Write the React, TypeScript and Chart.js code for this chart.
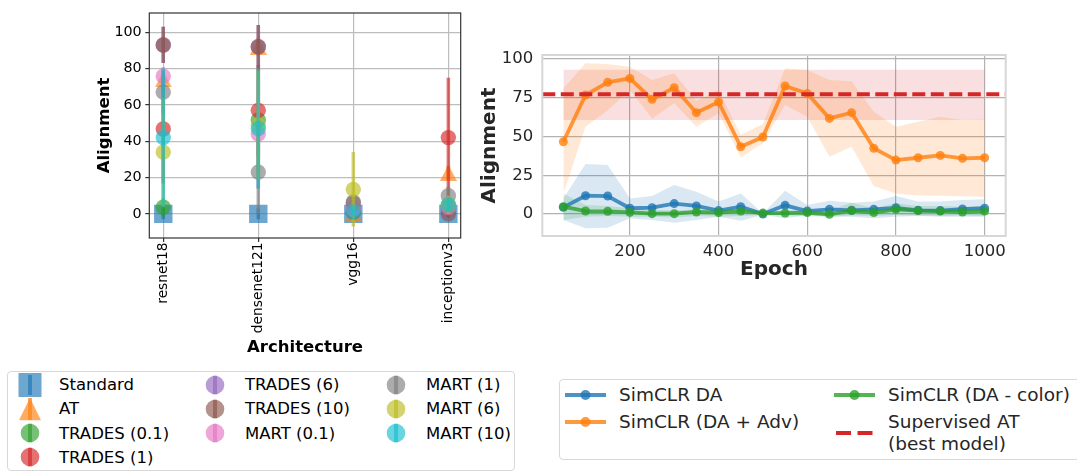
import React, { useEffect, useRef } from 'react';
import { Chart, registerables } from 'chart.js';

Chart.register(...registerables);

const FONT = "'DejaVu Sans', sans-serif";
Chart.defaults.font.family = FONT;

// ---------------- Left panel data ----------------
const architectures = ['resnet18', 'densenet121', 'vgg16', 'inceptionv3'];
const methodNames = ['Standard', 'AT', 'TRADES (0.1)', 'TRADES (1)', 'TRADES (6)', 'TRADES (10)', 'MART (0.1)', 'MART (1)', 'MART (6)', 'MART (10)'];
const methodColors = ['#1f77b4', '#ff7f0e', '#2ca02c', '#d62728', '#9467bd', '#8c564b', '#e377c2', '#7f7f7f', '#bcbd22', '#17becf'];
const methodShapes = ['rect', 'triangle', 'circle', 'circle', 'circle', 'circle', 'circle', 'circle', 'circle', 'circle'];

const standardVals = [0, 0, 0, 0];
const standardErr = [3, 3, 2, 2];
const atVals = [74, 92, 0, 22.5];
const atErr = [6, 5, 1, 4];
const trades01Vals = [3.6, 51.7, 1, 4];
const trades01Err = [5, 28, 1, 3];
const trades1Vals = [46.7, 57, 1, 42];
const trades1Err = [30, 25, 1, 33];
const trades6Vals = [93, 92, 3, 3];
const trades6Err = [10, 12, 2, 3];
const trades10Vals = [93, 92, 6, 0];
const trades10Err = [10, 12, 3, 2];
const mart01Vals = [75.8, 44, 2.5, 3.5];
const mart01Err = [5, 30, 2, 3];
const mart1Vals = [67, 23, 6.5, 10];
const mart1Err = [12, 23, 3, 5];
const mart6Vals = [34, 48.8, 13.5, 5];
const mart6Err = [30, 30, 20.5, 5];
const mart10Vals = [42, 47, 1, 5];
const mart10Err = [38, 33, 2, 4];

const methodValues = [standardVals, atVals, trades01Vals, trades1Vals, trades6Vals, trades10Vals, mart01Vals, mart1Vals, mart6Vals, mart10Vals];
const methodErrors = [standardErr, atErr, trades01Err, trades1Err, trades6Err, trades10Err, mart01Err, mart1Err, mart6Err, mart10Err];
const leftYTicks = [0, 20, 40, 60, 80, 100];

// ---------------- Right panel data ----------------
const epochs = [50, 100, 150, 200, 250, 300, 350, 400, 450, 500, 550, 600, 650, 700, 750, 800, 850, 900, 950, 1000];
const daMean = [4.3, 11.8, 11.6, 3.7, 4.1, 6.7, 5.2, 2.2, 4.7, 0, 5.6, 1.9, 3, 2.4, 3, 4, 2.4, 2.2, 3.2, 3.7];
const daUpper = [10, 32.3, 31.6, 10, 11.6, 18.7, 14.4, 8, 13.3, 0.4, 15, 5.8, 8.6, 7.3, 8, 11.6, 8, 8, 9, 9.5];
const daLower = [-3.9, -9.2, -8.8, -2.8, -3.9, -5.6, -3.9, -1.7, -4.3, -0.6, -2.8, -1, -1.7, -1.7, -2.8, -1.7, -1.3, -1.7, -1.7, -1.7];
const advMean = [46.6, 76.8, 85, 87.5, 74, 81.5, 65.4, 72.3, 43.4, 49.7, 82.6, 77.8, 61.7, 65.4, 42.4, 34.8, 36.3, 37.8, 35.9, 36.3];
const advUpper = [81, 97.2, 96.8, 95, 86.5, 90.8, 73, 80, 51, 58, 94, 92.9, 86.5, 85.7, 66, 56.3, 59.6, 62.8, 60.6, 61];
const advLower = [13.3, 56.3, 67, 80, 61.7, 71.4, 56.3, 65, 36.6, 45.6, 70.3, 62.8, 37, 43.4, 18, 13.3, 12, 11.7, 11.5, 11.2];
const colorMean = [4.7, 1.9, 1.7, 1.1, 0.2, 0.2, 1.3, 0.9, 1.9, 0.6, 0.6, 0.9, -0.2, 2.2, 0.9, 3, 2.2, 1.9, 1.3, 1.9];
const colorUpper = [13.3, 5.8, 5.2, 3.7, 2.6, 2.2, 3, 2.6, 3.7, 0.4, 2.6, 2.2, 2.6, 7.3, 3.7, 6.9, 5.2, 5.2, 4.7, 5.2];
const colorLower = [-3.9, -1.7, -1.3, -1.7, -1.7, -2.2, -1.3, -1.7, -1.3, -0.6, -0.9, -1.3, -1.7, -0.9, -1.3, -0.6, -0.9, -1.3, -0.9, -1.3];
const supervisedAT = 77.2;
const supervisedUpper = 93.1;
const supervisedLower = 60.6;
const rightXTicks = [200, 400, 600, 800, 1000];
const rightYTicks = [0, 25, 50, 75, 100];
const rightXMin = 2.5;
const rightXMax = 1047.5;

const BLUE = '#1f77b4';
const ORANGE = '#ff7f0e';
const GREEN = '#2ca02c';
const RED = '#d62728';

function rgba(hex: string, a: number) {
  const n = parseInt(hex.slice(1), 16);
  return `rgba(${(n >> 16) & 255},${(n >> 8) & 255},${n & 255},${a})`;
}

const MARKER_ALPHA = 0.65;

function makeTriangle(w: number, h: number, color: string) {
  const c = document.createElement('canvas');
  c.width = w;
  c.height = h;
  const g = c.getContext('2d')!;
  g.fillStyle = color;
  g.beginPath();
  g.moveTo(w / 2, 0);
  g.lineTo(w, h);
  g.lineTo(0, h);
  g.closePath();
  g.fill();
  return c;
}

const errorBarPlugin = {
  id: 'errorBars',
  beforeDatasetDraw(chart: any, args: any) {
    const ds = chart.data.datasets[args.index];
    if (!ds.errors) return;
    const { ctx, chartArea } = chart;
    const x = chart.scales.x;
    const y = chart.scales.y;
    ctx.save();
    ctx.beginPath();
    ctx.rect(chartArea.left, chartArea.top, chartArea.right - chartArea.left, chartArea.bottom - chartArea.top);
    ctx.clip();
    ctx.strokeStyle = ds.errorColor;
    ctx.lineWidth = 3.5;
    ds.data.forEach((p: any, i: number) => {
      const e = ds.errors[i];
      const px = x.getPixelForValue(p.x);
      ctx.beginPath();
      ctx.moveTo(px, y.getPixelForValue(p.y - e));
      ctx.lineTo(px, y.getPixelForValue(p.y + e));
      ctx.stroke();
    });
    ctx.restore();
  },
};

const framePlugin = {
  id: 'frame',
  afterDatasetsDraw(chart: any, _args: any, opts: any) {
    const { ctx, chartArea: a } = chart;
    ctx.save();
    ctx.strokeStyle = opts.color;
    ctx.lineWidth = opts.width;
    ctx.strokeRect(a.left, a.top, a.right - a.left, a.bottom - a.top);
    ctx.restore();
  },
};

const noPadY = (w: number) => (s: any) => {
  s.width = w;
  s.paddingTop = 0;
  s.paddingBottom = 0;
};
const noPadX = (h: number) => (s: any) => {
  s.height = h;
  s.paddingLeft = 0;
  s.paddingRight = 0;
};

function LeftLegend() {
  const colX = [30, 215, 396];
  const textX = [59, 245, 426];
  const rowY = [385, 409.1, 433.2, 457.3];
  const columns = [[0, 1, 2, 3], [4, 5, 6], [7, 8, 9]];
  const items: any[] = [];
  columns.forEach((col, ci) =>
    col.forEach((mi, ri) => {
      const color = rgba(methodColors[mi], MARKER_ALPHA);
      const cy = rowY[ri];
      let shape: any;
      let bar = 10;
      if (methodShapes[mi] === 'rect') shape = <rect x={14 - 11.5} y={14 - 12} width={23} height={24} fill={color} />;
      else if (methodShapes[mi] === 'triangle') {
        shape = <polygon points={`14,${14 - 11.3} ${14 + 11},${14 + 11.3} ${14 - 11},${14 + 11.3}`} fill={color} />;
        bar = 11;
      } else {
        shape = <circle cx={14} cy={14} r={9.3} fill={color} />;
        bar = 9.3;
      }
      items.push(
        <svg key={'m' + mi} width={28} height={28} style={{ position: 'absolute', left: colX[ci] - 14, top: cy - 14 }}>
          <line x1={14} x2={14} y1={14 - bar} y2={14 + bar} stroke={color} strokeWidth={4} />
          {shape}
        </svg>
      );
      items.push(
        <div key={'t' + mi} style={{ position: 'absolute', left: textX[ci], top: cy - 9.7, fontSize: 16.5, lineHeight: '20px', color: '#000', whiteSpace: 'nowrap' }}>
          {methodNames[mi]}
        </div>
      );
    })
  );
  return (
    <>
      <div style={{ position: 'absolute', left: 7, top: 371, width: 508, height: 100, border: '1px solid #d8d8d8', borderRadius: 4, boxSizing: 'border-box' }} />
      {items}
    </>
  );
}

const rightLegendNames = ['SimCLR DA', 'SimCLR (DA + Adv)', 'SimCLR (DA - color)', 'Supervised AT\n(best model)'];

function RightLegend() {
  const lineX = [565, 834];
  const textX = [619, 888];
  const rowY = [394.5, 421.7];
  const cols = [[0, 1], [2, 3]];
  const colors = [BLUE, ORANGE, GREEN, RED];
  const items: any[] = [];
  cols.forEach((col, ci) =>
    col.forEach((li, ri) => {
      const cy = rowY[ri];
      const isDash = li === 3;
      const hy = isDash ? 433 : cy;
      items.push(
        <svg key={'l' + li} width={44} height={14} style={{ position: 'absolute', left: lineX[ci], top: hy - 7 }}>
          {isDash ? (
            <line x1={2} x2={40} y1={7} y2={7} stroke={RED} strokeWidth={4} strokeDasharray="15 6.5" />
          ) : (
            <>
              <line x1={0} x2={41} y1={7} y2={7} stroke={rgba(colors[li], 0.8)} strokeWidth={4} />
              <circle cx={20.5} cy={7} r={5} fill={rgba(colors[li], 0.8)} />
            </>
          )}
        </svg>
      );
      items.push(
        <div key={'t' + li} style={{ position: 'absolute', left: textX[ci], top: cy - 10.4, fontSize: 18.5, lineHeight: '21.5px', color: '#262626', whiteSpace: 'pre' }}>
          {rightLegendNames[li]}
        </div>
      );
    })
  );
  return (
    <>
      <div style={{ position: 'absolute', left: 559, top: 379, width: 560, height: 81, border: '1px solid #d8d8d8', borderRadius: 4, boxSizing: 'border-box' }} />
      {items}
    </>
  );
}

export default function App() {
  const leftRef = useRef<HTMLCanvasElement>(null);
  const rightRef = useRef<HTMLCanvasElement>(null);

  useEffect(() => {
    const triangleImg = makeTriangle(17, 16, rgba(methodColors[1], MARKER_ALPHA));
    const leftDatasets = methodNames.map((name, i) => {
      const shape = methodShapes[i];
      return {
        label: name,
        data: architectures.map((_, j) => ({ x: j, y: methodValues[i][j] })),
        errors: methodErrors[i],
        errorColor: rgba(methodColors[i], MARKER_ALPHA),
        pointStyle: shape === 'triangle' ? triangleImg : shape,
        pointRadius: shape === 'rect' ? 13 : shape === 'triangle' ? 9 : 7.7,
        pointBackgroundColor: rgba(methodColors[i], MARKER_ALPHA),
        pointBorderWidth: 0,
        borderColor: 'transparent',
        backgroundColor: rgba(methodColors[i], MARKER_ALPHA),
        order: methodNames.length - i,
      };
    });

    const left = new Chart(leftRef.current!, {
      type: 'scatter',
      data: { datasets: leftDatasets as any },
      options: {
        animation: false,
        responsive: false,
        events: [],
        layout: { padding: { left: 80, top: 8, right: 19.3, bottom: 5.1 } },
        plugins: { legend: { display: false }, tooltip: { enabled: false }, frame: { color: '#333333', width: 1.2 } } as any,
        scales: {
          x: {
            type: 'linear',
            min: -0.147,
            max: 3.13,
            afterBuildTicks: (s: any) => {
              s.ticks = architectures.map((_, i) => ({ value: i }));
            },
            afterFit: noPadX(121.9),
            ticks: {
              callback: (v: any) => architectures[v] ?? '',
              minRotation: 90,
              maxRotation: 90,
              autoSkip: false,
              font: { size: 13.8 },
              color: '#000',
              padding: 0.5,
            },
            grid: { color: '#bdbdbd', lineWidth: 1.2, tickColor: '#333', tickLength: 4, drawTicks: true },
            border: { display: false },
            title: { display: true, text: 'Architecture', font: { size: 16.5, weight: 'bold' }, color: '#000', padding: { top: 4, bottom: 2 } },
          },
          y: {
            type: 'linear',
            min: -13.3,
            max: 110.6,
            afterBuildTicks: (s: any) => {
              s.ticks = leftYTicks.map((v) => ({ value: v }));
            },
            afterFit: noPadY(69.3),
            ticks: { font: { size: 14.3 }, color: '#000', padding: 3.6 },
            grid: { color: '#bdbdbd', lineWidth: 1.2, tickColor: '#333', tickLength: 4, drawTicks: true },
            border: { display: false },
            title: { display: true, text: 'Alignment', font: { size: 16.5, weight: 'bold' }, color: '#000', padding: { top: 14.5, bottom: 0 } },
          },
        },
      } as any,
      plugins: [errorBarPlugin, framePlugin],
    });

    const pts = (ys: number[]) => epochs.map((e, i) => ({ x: e, y: ys[i] }));
    const bandEdge = (ys: number[], extra: any = {}) => ({
      data: pts(ys),
      borderWidth: 0,
      borderColor: 'transparent',
      pointRadius: 0,
      fill: false,
      order: 20,
      ...extra,
    });
    const seriesLine = (ys: number[], color: string, order: number, label: string) => ({
      label,
      data: pts(ys),
      borderColor: rgba(color, 0.8),
      backgroundColor: rgba(color, 0.8),
      borderWidth: 3.8,
      pointRadius: 4.5,
      pointBorderWidth: 0,
      pointBackgroundColor: rgba(color, 0.8),
      fill: false,
      tension: 0,
      order,
    });

    const right = new Chart(rightRef.current!, {
      type: 'line',
      data: {
        datasets: [
          bandEdge(daUpper),
          bandEdge(daLower, { fill: '-1', backgroundColor: rgba(BLUE, 0.17) }),
          bandEdge(advUpper),
          bandEdge(advLower, { fill: '-1', backgroundColor: rgba(ORANGE, 0.17) }),
          bandEdge(colorUpper),
          bandEdge(colorLower, { fill: '-1', backgroundColor: rgba(GREEN, 0.17) }),
          {
            data: [{ x: epochs[0], y: supervisedUpper }, { x: epochs[epochs.length - 1], y: supervisedUpper }],
            borderWidth: 0, borderColor: 'transparent', pointRadius: 0, fill: false, order: 20,
          },
          {
            data: [{ x: epochs[0], y: supervisedLower }, { x: epochs[epochs.length - 1], y: supervisedLower }],
            borderWidth: 0, borderColor: 'transparent', pointRadius: 0, fill: '-1', backgroundColor: rgba(RED, 0.15), order: 20,
          },
          {
            label: 'Supervised AT (best model)',
            data: [{ x: rightXMin, y: supervisedAT }, { x: rightXMax, y: supervisedAT }],
            borderColor: RED,
            borderWidth: 4,
            borderDash: [13, 5.5],
            pointRadius: 0,
            fill: false,
            order: 0,
          },
          seriesLine(daMean, BLUE, 3, 'SimCLR DA'),
          seriesLine(advMean, ORANGE, 2, 'SimCLR (DA + Adv)'),
          seriesLine(colorMean, GREEN, 1, 'SimCLR (DA - color)'),
        ] as any,
      },
      options: {
        animation: false,
        responsive: false,
        events: [],
        layout: { padding: { left: 0, top: 55, right: 71.3, bottom: 14 } },
        plugins: {
          legend: { display: false },
          tooltip: { enabled: false },
          filler: { drawTime: 'beforeDatasetsDraw' },
          frame: { color: '#d6d6d6', width: 2 },
        } as any,
        scales: {
          x: {
            type: 'linear',
            min: rightXMin,
            max: rightXMax,
            afterBuildTicks: (s: any) => {
              s.ticks = rightXTicks.map((v) => ({ value: v }));
            },
            afterFit: noPadX(50),
            ticks: { font: { size: 16.5 }, color: '#262626', padding: 5.4, maxRotation: 0, callback: (v: any) => String(v) },
            grid: { color: '#b2b2b2', lineWidth: 1.2, drawTicks: false },
            border: { display: false },
            title: { display: true, text: 'Epoch', font: { size: 20, weight: 'bold' }, color: '#262626', padding: { top: 4, bottom: 4 } },
          },
          y: {
            type: 'linear',
            min: -14.2,
            max: 102.6,
            afterBuildTicks: (s: any) => {
              s.ticks = rightYTicks.map((v) => ({ value: v }));
            },
            afterFit: noPadY(72.3),
            ticks: { font: { size: 16.5 }, color: '#262626', padding: 9, callback: (v: any) => String(v) },
            grid: { color: '#b2b2b2', lineWidth: 1.2, drawTicks: false },
            border: { display: false },
            title: { display: true, text: 'Alignment', font: { size: 20, weight: 'bold' }, color: '#262626', padding: { top: 8, bottom: 0 } },
          },
        },
      } as any,
      plugins: [framePlugin],
    });

    return () => {
      left.destroy();
      right.destroy();
    };
  }, []);

  return (
    <div style={{ position: 'absolute', left: 0, top: 0, width: 1077, height: 473, overflow: 'hidden', background: '#fff', fontFamily: FONT }}>
      <canvas ref={leftRef} width={480} height={365} style={{ position: 'absolute', left: 0, top: 0, width: 480, height: 365 }} />
      <canvas ref={rightRef} width={607} height={300} style={{ position: 'absolute', left: 470, top: 0, width: 607, height: 300 }} />
      <LeftLegend />
      <RightLegend />
    </div>
  );
}
